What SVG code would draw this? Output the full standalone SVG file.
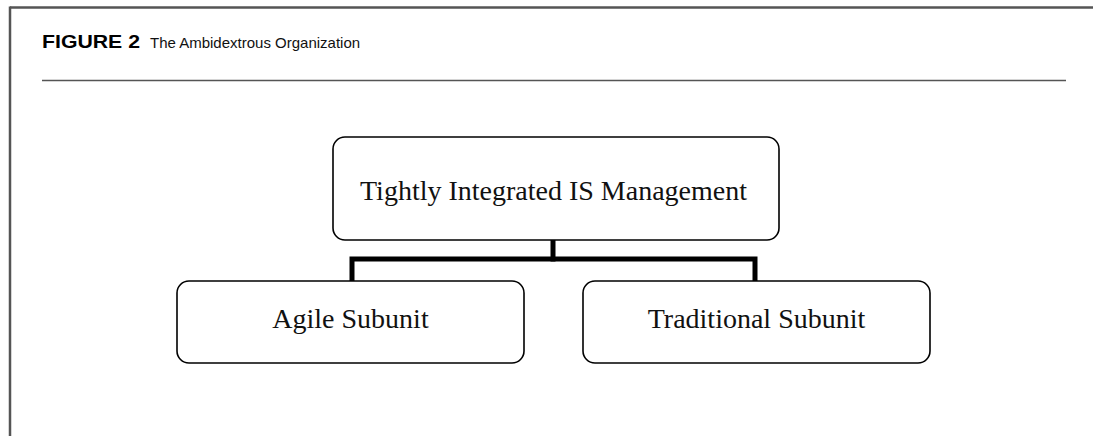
<svg xmlns="http://www.w3.org/2000/svg" width="1093" height="436" viewBox="0 0 1093 436">
<style>
.frame{stroke:#555;fill:none}
.box{fill:#fff;stroke:#000;stroke-width:1.6}
.lbl{font-family:"Liberation Serif","Times New Roman",serif;font-size:28px;fill:#111;text-anchor:middle}
.conn{stroke:#000;stroke-width:5;fill:none;stroke-linecap:square}
.fig{font-family:"Liberation Sans",Arial,sans-serif;font-weight:bold;font-size:18px;fill:#000}
.title{font-family:"Liberation Sans",Arial,sans-serif;font-size:15px;fill:#111}
</style>
<rect width="1093" height="436" fill="#fff"/>
<g id="frame">
<line class="frame" x1="10" y1="7.5" x2="1093" y2="7.5" stroke-width="2.5"/>
<line class="frame" x1="10" y1="6.5" x2="10" y2="436" stroke-width="2.5"/>
<line class="frame" x1="42" y1="80.5" x2="1066" y2="80.5" stroke-width="1.5"/>
<text class="fig" x="42" y="48" textLength="98" lengthAdjust="spacingAndGlyphs">FIGURE 2</text>
<text class="title" x="150" y="48">The Ambidextrous Organization</text>
</g>
<g id="connectors">
<line class="conn" x1="553" y1="241" x2="553" y2="259"/>
<polyline class="conn" points="352,280 352,259 755,259 755,280"/>
</g>
<g id="node-top">
<rect class="box" x="333" y="137" width="446" height="103" rx="12"/>
<text class="lbl" x="553.5" y="200">Tightly Integrated IS Management</text>
</g>
<g id="node-agile">
<rect class="box" x="177" y="281" width="347" height="82" rx="12"/>
<text class="lbl" x="350.5" y="328">Agile Subunit</text>
</g>
<g id="node-traditional">
<rect class="box" x="583" y="281" width="347" height="82" rx="12"/>
<text class="lbl" x="756.5" y="328">Traditional Subunit</text>
</g>
</svg>
